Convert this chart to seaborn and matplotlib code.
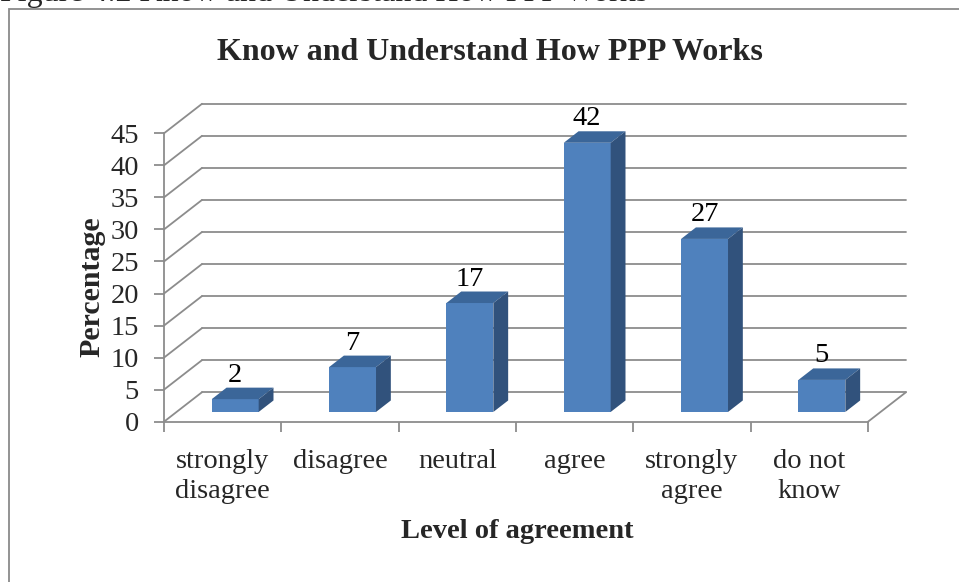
import matplotlib
matplotlib.use("Agg")
import matplotlib.pyplot as plt
from matplotlib.patches import Polygon, Rectangle
from matplotlib.transforms import Affine2D
import seaborn as sns
import pandas as pd

# ---- data ----
categories = ["strongly\ndisagree", "disagree", "neutral", "agree", "strongly\nagree", "do not\nknow"]
values = [2, 7, 17, 42, 27, 5]
y_ticks = [0, 5, 10, 15, 20, 25, 30, 35, 40, 45]
title = "Know and Understand How PPP Works"
caption = "Figure 4.2 Know and Understand How PPP Works"
x_label = "Level of agreement"
y_label = "Percentage"

df = pd.DataFrame({"category": categories, "value": values})

sns.set_theme(style="white")
plt.rcParams["font.family"] = ["Liberation Serif", "DejaVu Serif"]

W, H = 959, 582
fig = plt.figure(figsize=(W / 100, H / 100), dpi=100)

# axes in pixel layout
x0, x1 = 164, 908
y_front0, y_top = 421.7, 105
ax = fig.add_axes([x0 / W, 1 - y_front0 / H, (x1 - x0) / W, (y_front0 - y_top) / H])

px_per_x = (868 - 164) / 6.0
px_per_y = 288.4 / 45.0
DX = 38 / px_per_x
DY = 29.5 / px_per_y
XMAX = -0.5 + (x1 - x0) / px_per_x
YMAX = (y_front0 - y_top) / px_per_y

grid_col = "#8c8c8c"
front_col = "#4F81BD"
top_col = "#3B6699"
side_col = "#31527C"
FS = 20.5

sns.barplot(data=df, x="category", y="value", color=front_col, width=0.40,
            saturation=1, ax=ax, zorder=3, linewidth=0, errorbar=None)

# walls / gridlines
for v in y_ticks:
    ax.plot([-0.5 + DX, 5.5 + DX], [v + DY, v + DY], color=grid_col, lw=1.3,
            clip_on=False, zorder=1)
    ax.plot([-0.5, -0.5 + DX], [v, v + DY], color=grid_col, lw=1.3,
            clip_on=False, zorder=1)
ax.plot([5.5, 5.5 + DX], [0, DY], color=grid_col, lw=1.3, clip_on=False, zorder=1)

# 3D bars: shift front faces into depth and add top and side faces
f0 = 0.33
fd = 0.39
ox, oy = f0 * DX, f0 * DY
sx, sy = fd * DX, fd * DY
for p, v in zip(ax.patches[:len(values)], values):
    p.set_transform(Affine2D().translate(ox, oy) + ax.transData)
    bx = p.get_x() + ox
    bw = p.get_width()
    by = oy
    top = by + v
    ax.add_patch(Polygon([(bx, top), (bx + bw, top), (bx + bw + sx, top + sy), (bx + sx, top + sy)],
                         closed=True, facecolor=top_col, edgecolor="none", zorder=3))
    ax.add_patch(Polygon([(bx + bw, by), (bx + bw + sx, by + sy), (bx + bw + sx, top + sy), (bx + bw, top)],
                         closed=True, facecolor=side_col, edgecolor="none", zorder=3))
    ax.text(bx + bw / 2, top + sy + 0.0, f"{v}", ha="center", va="bottom",
            fontsize=FS, color="black", zorder=4)

ax.set_xlim(-0.5, XMAX)
ax.set_ylim(0, YMAX)

for s in ["top", "right"]:
    ax.spines[s].set_visible(False)
for s in ["left", "bottom"]:
    ax.spines[s].set_color(grid_col)
    ax.spines[s].set_linewidth(1.3)
ax.spines["left"].set_bounds(0, 45)
ax.spines["bottom"].set_bounds(-0.5, 5.5)

ax.set_yticks(y_ticks)
ax.set_yticklabels([str(t) for t in y_ticks], fontsize=FS)
ax.tick_params(axis="y", direction="out", length=7, width=1.3, color=grid_col, pad=11, left=True)

ax.set_xticks(range(len(categories)))
ax.set_xticklabels(categories, fontsize=FS, linespacing=1.25)
ax.set_xticks([i - 0.5 for i in range(len(categories) + 1)], minor=True)
ax.tick_params(axis="x", which="major", length=0, pad=20, bottom=True)
ax.tick_params(axis="x", which="minor", direction="out", length=7, width=1.3, color=grid_col, bottom=True)
ax.set_xlabel("")
ax.set_ylabel("")
ax.grid(False)
ax.patch.set_alpha(0)

# texts
fig.text(490 / W, 1 - 52 / H, title, ha="center", va="center", fontsize=23, fontweight="bold")
fig.text(517 / W, 1 - 532 / H, x_label, ha="center", va="center", fontsize=20.5, fontweight="bold")
fig.text(91.5 / W, 1 - 287 / H, y_label, ha="center", va="center", rotation=90, fontsize=21.5, fontweight="bold")
fig.text(0, 1 - 1 / H, caption, ha="left", va="baseline", fontsize=23)

# outer frame
fig.patches.append(Rectangle((9 / W, -0.1), 1.2, 1 - 9 / H + 0.1, transform=fig.transFigure,
                             fill=False, edgecolor="#8a8a8a", lw=1.3, zorder=0))

fig.savefig("out.png", dpi=100)
